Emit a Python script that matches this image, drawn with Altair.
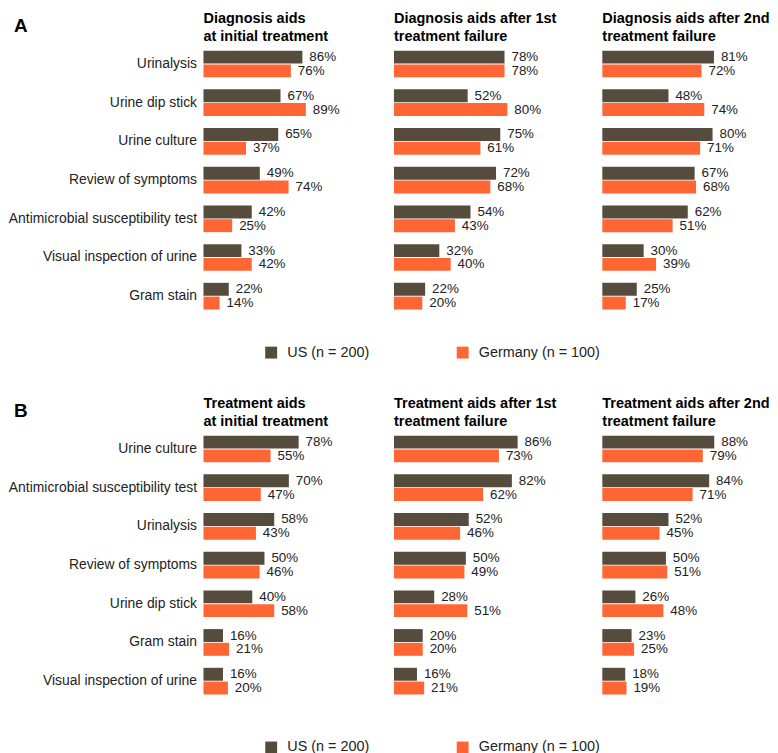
import altair as alt
import pandas as pd

FONT = "Liberation Sans"
US_COLOR = "#564C3D"
DE_COLOR = "#FF6633"
countries = ["US (n = 200)", "Germany (n = 100)"]

# ---- Section A: diagnosis aids ----
diag_categories = ["Urinalysis", "Urine dip stick", "Urine culture", "Review of symptoms",
                   "Antimicrobial susceptibility test", "Visual inspection of urine", "Gram stain"]
diag_us_initial = [86, 67, 65, 49, 42, 33, 22]
diag_de_initial = [76, 89, 37, 74, 25, 42, 14]
diag_us_1st = [78, 52, 75, 72, 54, 32, 22]
diag_de_1st = [78, 80, 61, 68, 43, 40, 20]
diag_us_2nd = [81, 48, 80, 67, 62, 30, 25]
diag_de_2nd = [72, 74, 71, 68, 51, 39, 17]
diag_titles = [["Diagnosis aids", "at initial treatment"],
               ["Diagnosis aids after 1st", "treatment failure"],
               ["Diagnosis aids after 2nd", "treatment failure"]]

# ---- Section B: treatment aids ----
treat_categories = ["Urine culture", "Antimicrobial susceptibility test", "Urinalysis",
                    "Review of symptoms", "Urine dip stick", "Gram stain", "Visual inspection of urine"]
treat_us_initial = [78, 70, 58, 50, 40, 16, 16]
treat_de_initial = [55, 47, 43, 46, 58, 21, 20]
treat_us_1st = [86, 82, 52, 50, 28, 20, 16]
treat_de_1st = [73, 62, 46, 49, 51, 20, 21]
treat_us_2nd = [88, 84, 52, 50, 26, 23, 18]
treat_de_2nd = [79, 71, 45, 51, 48, 25, 19]
treat_titles = [["Treatment aids", "at initial treatment"],
                ["Treatment aids after 1st", "treatment failure"],
                ["Treatment aids after 2nd", "treatment failure"]]

PANEL_W = [182, 200, 150]
PANEL_H = 273


def panel(categories, us, de, title_lines, xmax, width, first, letter, legend_y):
    n = len(categories)
    df = pd.DataFrame({
        "category": categories * 2,
        "country": [countries[0]] * n + [countries[1]] * n,
        "value": us + de,
    })
    df["label"] = df["value"].astype(str) + "%"
    yaxis = alt.Axis(labelFont=FONT, labelFontSize=14, labelColor="#222222",
                     ticks=False, domain=False, labelPadding=7, title=None,
                     labelLimit=400) if first else None
    base = alt.Chart(df).encode(
        y=alt.Y("category:N", sort=categories,
                scale=alt.Scale(paddingInner=0.31, paddingOuter=0.155),
                axis=yaxis, title=None),
        yOffset=alt.YOffset("country:N", sort=countries,
                            scale=alt.Scale(paddingInner=0.06)),
    )
    legend = alt.Legend(orient="none", legendX=61, legendY=legend_y,
                        direction="horizontal", title=None, symbolType="square",
                        symbolSize=144, symbolStrokeWidth=0, labelFont=FONT,
                        labelFontSize=14.5, labelColor="#222222", columnPadding=86,
                        labelOffset=9) if first else None
    bars = base.mark_bar().encode(
        x=alt.X("value:Q", scale=alt.Scale(domain=[0, xmax]), axis=None),
        color=alt.Color("country:N", sort=countries,
                        scale=alt.Scale(domain=countries, range=[US_COLOR, DE_COLOR]),
                        legend=legend),
    )
    text = base.mark_text(align="left", dx=7, fontSize=13.5, font=FONT,
                          color="#222222").encode(
        x=alt.X("value:Q", scale=alt.Scale(domain=[0, xmax]), axis=None),
        text="label:N")
    layers = [bars, text]
    offset = 1
    if first:
        lab = alt.Chart(pd.DataFrame({"t": [letter]})).mark_text(
            align="left", baseline="alphabetic", fontSize=19, fontWeight="bold",
            font=FONT, color="black").encode(
            x=alt.value(-191), y=alt.value(-13), text="t:N")
        layers.append(lab)
        offset = -27
    return alt.layer(*layers).properties(
        width=width, height=PANEL_H,
        title=alt.Title(title_lines, anchor="start", frame="group", font=FONT,
                        fontSize=14.6, fontWeight="bold", color="black",
                        lineHeight=18, offset=offset))


def section(categories, us_list, de_list, titles, xmaxes, letter, legend_y):
    panels = [panel(categories, us_list[i], de_list[i], titles[i], xmaxes[i],
                    PANEL_W[i], i == 0, letter, legend_y) for i in range(3)]
    return alt.hconcat(*panels, spacing=10).resolve_scale(x="independent", y="independent")


secA = section(diag_categories,
               [diag_us_initial, diag_us_1st, diag_us_2nd],
               [diag_de_initial, diag_de_1st, diag_de_2nd],
               diag_titles, [157, 140, 108], "A", PANEL_H + 30)
secB = section(treat_categories,
               [treat_us_initial, treat_us_1st, treat_us_2nd],
               [treat_de_initial, treat_de_1st, treat_de_2nd],
               treat_titles, [148, 138, 117], "B", PANEL_H + 40)

chart = alt.vconcat(secA, secB, spacing=37).resolve_scale(color="independent").properties(
    padding=0
).configure_view(stroke=None)

chart.save("out.html", embed_options={"renderer": "svg", "actions": False})
